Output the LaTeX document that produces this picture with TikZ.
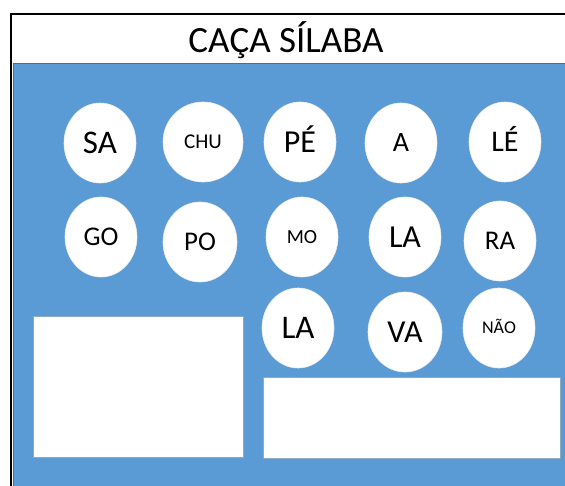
\documentclass[tikz,border=0pt]{standalone}
\usepackage{fontspec}
\setmainfont{Carlito}
\usepackage{tikz}
\usetikzlibrary{shapes.geometric}
\definecolor{cacablue}{RGB}{91,155,213}
\definecolor{cacaedge}{RGB}{65,113,156}
\newcommand{\sz}[1]{\fontsize{#1}{#1}\selectfont}

\begin{document}
\begin{tikzpicture}[
    x=1pt, y=-1pt,
    frame/.style={line width=2pt, color=black},
    board/.style={fill=cacablue, draw=cacaedge, line width=0.8pt},
    answer box/.style={rectangle, fill=white, draw=cacaedge!60, line width=0.8pt, inner sep=0pt},
    silaba/.style={ellipse, fill=white, draw=white!85!gray, line width=0.6pt, minimum width=72pt, minimum height=80pt, inner sep=0pt, text=black}
    ]

    \useasboundingbox (0,0) rectangle (565,486);
    \fill[white] (0,0) rectangle (565,486);
    \clip (0,0) rectangle (565,486);

    % frame, title
    \draw[frame] (11,490) -- (11,14) -- (570,14);
    \node[font=\sz{37}] (title) at (286,41) {CA\smash{Ç}A S\smash{Í}LABA};
    % blue board
    \draw[board] (13,63) rectangle (570,490);
    % answer boxes
    \node[answer box, minimum width=210pt, minimum height=141pt] (box1) at (138,386.5) {};
    \node[answer box, minimum width=297pt, minimum height=81pt] (box2) at (411.5,417.5) {};
    % first row
    \node[silaba, font=\sz{33}] (sa) at (100,143) {SA};
    \node[silaba, font=\sz{21}, minimum width=80pt] (chu) at (203,142) {CHU};
    \node[silaba, font=\sz{32}] (pe) at (300,142) {P\smash{É}};
    \node[silaba, font=\sz{28}] (a) at (401,143) {A};
    \node[silaba, font=\sz{30}] (le) at (505,142) {L\smash{É}};
    % second row
    \node[silaba, font=\sz{27}] (go) at (101,237) {GO};
    \node[silaba, font=\sz{27}, minimum width=74pt] (po) at (200,242) {PO};
    \node[silaba, font=\sz{20}] (mo) at (302,237) {MO};
    \node[silaba, font=\sz{32}] (la1) at (405,237) {LA};
    \node[silaba, font=\sz{27}] (ra) at (500,241) {RA};
    % third row
    \node[silaba, font=\sz{33}] (la2) at (298,328) {LA};
    \node[silaba, font=\sz{32}, minimum width=74pt] (va) at (405,332) {VA};
    \node[silaba, font=\sz{18}] (nao) at (499,328) {N\smash{Ã}O};
\end{tikzpicture}
\end{document}
